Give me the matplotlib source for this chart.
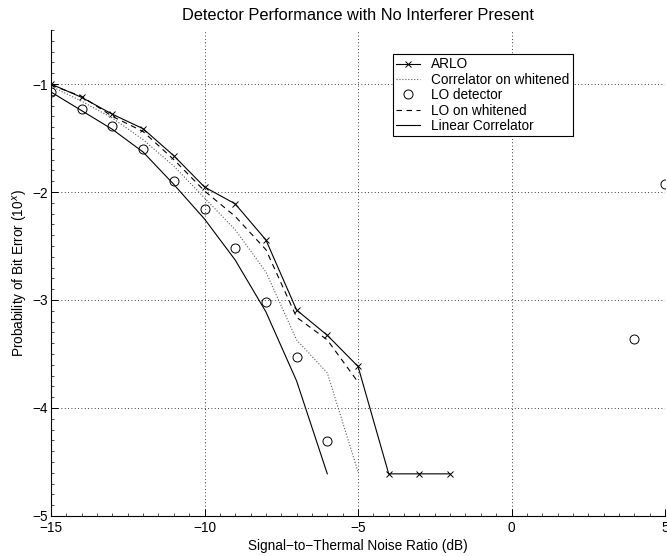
import matplotlib.pyplot as plt
from matplotlib.ticker import MultipleLocator

plt.rcParams['font.family'] = ['Liberation Sans', 'DejaVu Sans']
plt.rcParams['font.size'] = 9.8

# SNR in dB, error probabilities as log10 values
snr_arlo = [-15, -14, -13, -12, -11, -10, -9, -8, -7, -6, -5, -4, -3, -2]
pe_arlo = [-1.0, -1.124, -1.28, -1.414, -1.664, -1.954, -2.11, -2.444,
           -3.093, -3.327, -3.615, -4.61, -4.61, -4.61]

snr_corr_white = [-15, -14, -13, -12, -11, -10, -9, -8, -7, -6, -5]
pe_corr_white = [-1.02, -1.16, -1.315, -1.516, -1.76, -2.055, -2.35,
                 -2.74, -3.37, -3.675, -4.59]

snr_lo = [-15, -14, -13, -12, -11, -10, -9, -8, -7, -6, 4, 5]
pe_lo = [-1.074, -1.229, -1.39, -1.60, -1.90, -2.16, -2.516, -3.02,
         -3.53, -4.31, -3.36, -1.926]

snr_lo_white = [-15, -14, -13, -12, -11, -10, -9, -8, -7, -6, -5]
pe_lo_white = [-1.01, -1.115, -1.30, -1.44, -1.70, -1.99, -2.226,
               -2.534, -3.16, -3.37, -3.76]

snr_lin = [-15, -14, -13, -12, -11, -10, -9, -8, -7, -6]
pe_lin = [-1.074, -1.247, -1.42, -1.63, -1.93, -2.25, -2.63, -3.11,
          -3.75, -4.61]

fig = plt.figure(figsize=(6.67, 5.56), dpi=100)
ax = fig.add_axes([0.0765, 0.072, 0.9205, 0.874])

lw = 0.8
ax.plot(snr_arlo, pe_arlo, 'k-', marker='x', ms=4, mew=0.7, lw=lw, label='ARLO')
ax.plot(snr_corr_white, pe_corr_white, ':', color='0.35', lw=lw,
        label='Correlator on whitened')
ax.plot(snr_lo, pe_lo, 'ko', ls='none', ms=6.5, mfc='none', mew=0.7,
        label='LO detector')
ax.plot(snr_lo_white, pe_lo_white, 'k--', lw=lw, dashes=(5, 4),
        label='LO on whitened')
ax.plot(snr_lin, pe_lin, 'k-', lw=lw, label='Linear Correlator')

ax.set_xlim(-15, 5)
ax.set_ylim(-5, -0.5)
ax.set_xticks([-15, -10, -5, 0, 5])
ax.set_yticks([-5, -4, -3, -2, -1])
ax.set_xticklabels(['\u221215', '\u221210', '\u22125', '0', '5'])
ax.set_yticklabels(['\u22125', '\u22124', '\u22123', '\u22122', '\u22121'])
ax.xaxis.set_minor_locator(MultipleLocator(0.5))
ax.yaxis.set_minor_locator(MultipleLocator(0.1))
ax.tick_params(which='both', direction='in', top=False, right=False)
ax.tick_params(which='major', length=5, width=0.7)
ax.tick_params(axis='x', which='major', pad=3.5)
ax.tick_params(axis='y', which='major', pad=2)
ax.tick_params(which='minor', length=2, width=0.5)

for side in ['top', 'right']:
    ax.spines[side].set_visible(False)
for side in ['left', 'bottom']:
    ax.spines[side].set_linewidth(0.8)

ax.grid(True, which='major', ls=(0, (1, 3)), color='k', lw=0.6)

ax.set_title('Detector Performance with No Interferer Present', pad=7)
ax.set_xlabel('Signal\u2212to\u2212Thermal Noise Ratio (dB)', labelpad=3)
ax.set_ylabel('Probability of Bit Error (10$^x$)', labelpad=2)

leg = ax.legend(loc='upper left', bbox_to_anchor=(0.557, 0.9506), fancybox=False,
                framealpha=1, edgecolor='k', borderpad=0.25,
                labelspacing=0.1, handlelength=1.75, handletextpad=0.8,
                borderaxespad=0)
leg.get_frame().set_linewidth(0.8)

fig.savefig('out.png', dpi=100)
